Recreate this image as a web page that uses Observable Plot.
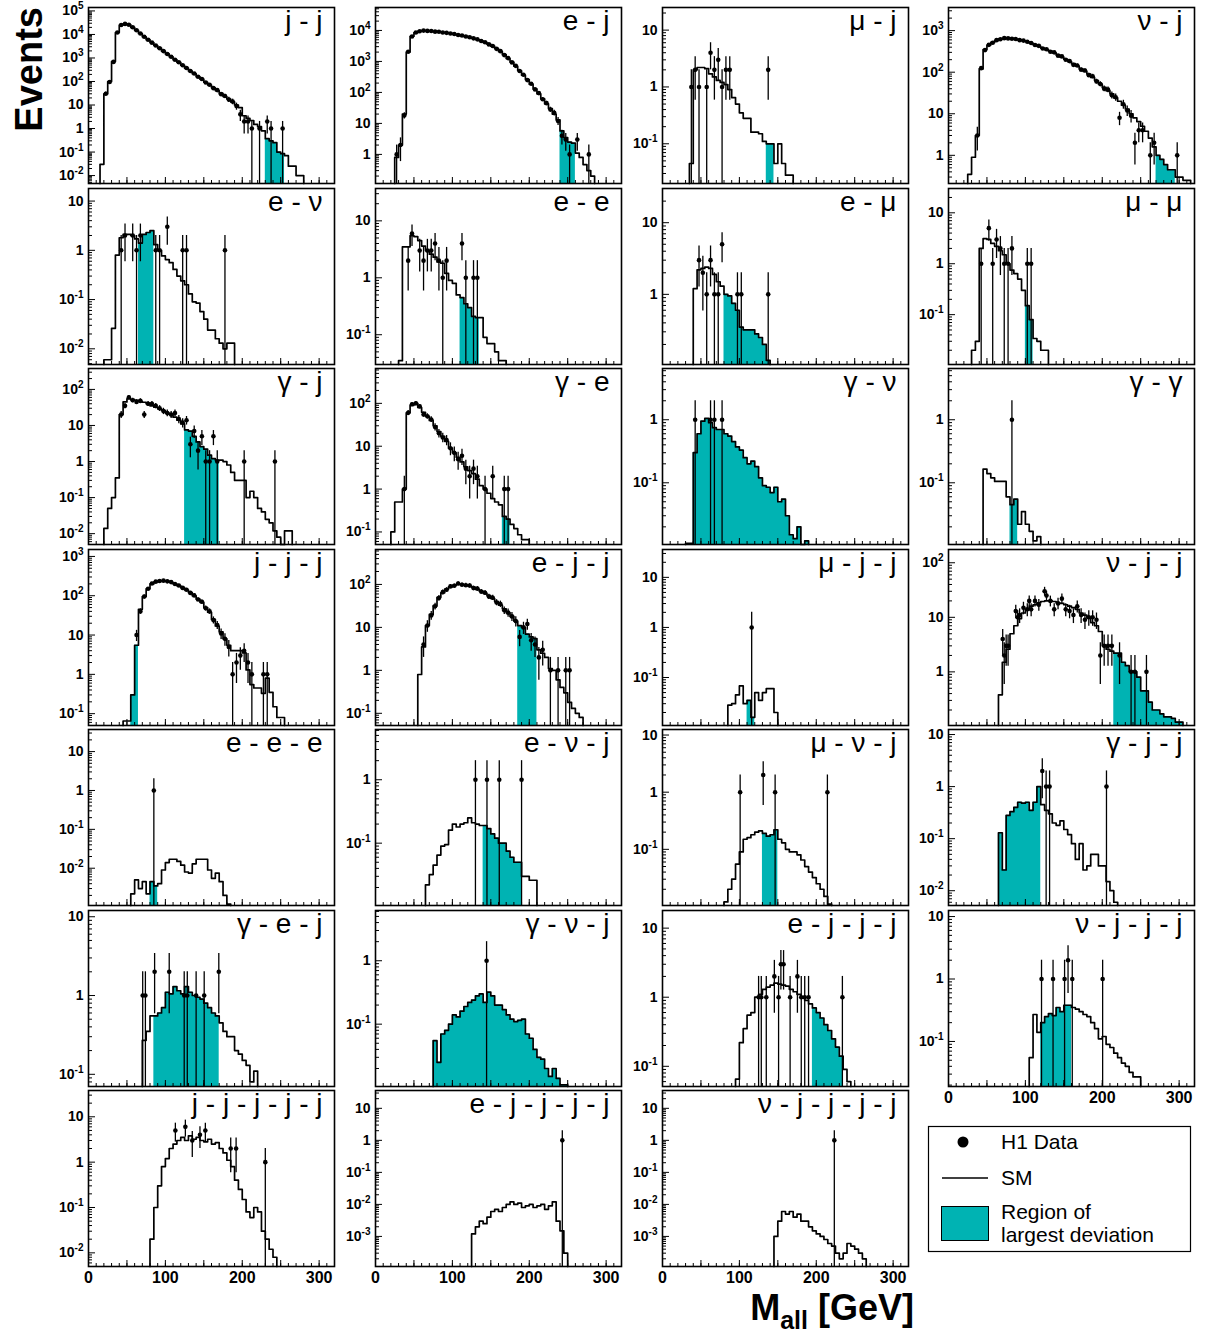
<!DOCTYPE html>
<html><head><meta charset="utf-8">
<script src="https://cdn.jsdelivr.net/npm/d3@7"></script>
<script src="https://cdn.jsdelivr.net/npm/@observablehq/plot@0.6"></script>
<style>
body{margin:0;background:#fff;}
#fig{position:relative;width:1207px;height:1336px;font-family:"Liberation Sans",Arial,sans-serif;overflow:hidden;}
.pn{position:absolute;}
</style></head><body><div id="fig"></div>
<script>
// ---------- data (SM: values per 5 GeV bin from "start"; points: [Mall, events]) ----------
const jj_sm = [0.03,30,100,700,12000,25000,28000,26000,20000,15000,11000,8000,6000,4500,3400,2600,1950,1480,1120,850,650,490,370,280,215,160,125,93,71,54,41,31,23,18,13.5,10,7.8,3.5,2.7,2.2,1.5,1.2,0.8,0.37,0.3,0.25,0.1,0.085,0.07,0.025,0.025,0.01,0.01];
const jj_body = [30,95,680,12100,25200,28100,25900,20100,15050,10950,8020,5990,4480,3410,2590,1960,1470,1130,845,655,488,372,278,218,158,127,90,73,52,43,29,24,17,14,9,4];
const jj_tail = [[202.5,2],[207.5,2],[212.5,1],[222.5,1],[232.5,2],[237.5,1],[252.5,1]];

const ej_sm = [0.8,2,20,2000,6500,8500,9500,9800,9700,9500,9200,9000,8600,8300,8000,7600,7200,6800,6400,6000,5600,5100,4600,4100,3600,3100,2600,2100,1650,1250,950,700,500,360,260,185,130,90,62,43,30,20,13,5.7,3.5,2.5,2.3,1.1,0.8,0.47,0.3,0.2];
const ej_body = [1,2,18,2050,6400,8600,9400,9900,9650,9550,9150,9050,8550,8350,7950,7650,7150,6850,6350,6050,5550,5150,4550,4150,3550,3150,2550,2150,1600,1280,930,720,490,370,250,190,125,95,60,45,28,22,12];
const ej_tail = [[242.5,4],[247.5,3],[252.5,1],[262.5,3],[277.5,1]];

const muj_sm = [0.045,2,2.2,2.2,2.1,1.7,1.5,1.3,1.2,1.1,0.9,0.65,0.5,0.35,0.28,0.28,0.16,0.16,0.15,0.11,0.1,0.1,0.045,0.1,0.045,0.028,0.028];
const muj_pts = [[37.5,1],[42.5,2],[47.5,1],[57.5,1],[62.5,4],[67.5,2],[72.5,3],[77.5,1],[82.5,2],[87.5,2],[137.5,2]];

const nuj_sm = [0.35,0.9,3,120,350,450,520,580,630,650,660,650,620,600,570,540,500,460,420,380,350,320,290,260,230,205,180,160,140,120,105,90,75,63,52,43,36,30,24,20,16,13,10,8,6.5,5,3.8,2.6,1.6,1.0,0.8,0.6,0.45,0.45,0.3,0.3,0.25,0.25];
const nuj_body = [3,125,340,455,510,590,620,660,650,640,630,590,575,540,505,450,430,370,355,310,300,250,240,200,185,150,145,115,110,85,80,60,52,40,38,28,25,8,17,12,9];
const nuj_tail = [[242.5,2],[247.5,4],[252.5,4],[262.5,1],[267.5,2],[297.5,1]];

const enu_sm = [0.006,0.006,0.026,0.8,1.8,2.1,2.1,2.0,1.7,1.4,2.1,2.3,2.5,1.3,1.0,0.77,0.65,0.56,0.41,0.3,0.24,0.2,0.13,0.09,0.085,0.057,0.04,0.024,0.024,0.016,0.013,0.01,0.013,0.013];
const enu_pts = [[42.5,1],[47.5,2],[57.5,2],[62.5,1],[67.5,2],[87.5,1],[92.5,1],[102.5,3],[122.5,1],[127.5,1],[177.5,1]];

const ee_sm = [0.035,3.5,3.5,5.5,5.3,4.5,3.6,3.0,2.6,2.3,1.9,1.8,1.2,0.9,0.8,0.5,0.45,0.35,0.3,0.21,0.2,0.2,0.09,0.07,0.07,0.05,0.035,0.035];
const ee_pts = [[42.5,2],[47.5,6],[57.5,3],[62.5,2],[67.5,3],[72.5,3],[77.5,4],[82.5,2],[87.5,1],[92.5,2],[112.5,4],[117.5,1],[127.5,1],[132.5,1]];

const emu_sm = [1.2,2.2,2.3,2.4,2.3,1.9,1.5,1.3,1.0,0.95,0.75,0.6,0.35,0.32,0.32,0.32,0.28,0.25,0.2,0.12];
const emu_pts = [[47.5,3],[52.5,2],[57.5,1],[62.5,3],[67.5,1],[72.5,1],[77.5,5],[97.5,1],[102.5,1],[137.5,1]];

const mumu_sm = [0.02,0.03,2,3.1,3.0,2.5,2.2,1.8,1.5,1.0,0.75,0.64,0.5,0.3,0.15,0.08,0.034,0.03,0.02,0.02];
const mumu_pts = [[42.5,1],[52.5,5],[57.5,1],[62.5,3],[67.5,2],[72.5,1],[77.5,1],[82.5,2],[102.5,1],[107.5,1]];

const gj_sm = [0.014,0.05,0.1,0.35,20,45,55,52,50,47,44,40,35,32,29,26,22,20,17,14,11,7.5,7,5,3.5,2.6,2.2,1.5,1.2,1.1,1.1,1.0,0.8,0.5,0.3,0.3,0.3,0.1,0.15,0.1,0.05,0.04,0.025,0.02,0.012,0.008,0.005,0.012,0.012];
const gj_pts = [[42.5,20],[47.5,35],[52.5,60],[57.5,50],[62.5,45],[67.5,48],[72.5,20],[77.5,40],[82.5,40],[87.5,35],[92.5,30],[97.5,25],[102.5,22],[107.5,20],[112.5,22],[117.5,15],[122.5,12],[127.5,14],[132.5,3],[137.5,7],[142.5,2],[147.5,5],[152.5,1],[157.5,1],[162.5,5],[167.5,1],[202.5,1],[242.5,1]];

const ge_sm = [0.1,0.5,0.5,1.0,60,90,100,80,62,50,40,30,22,17,13,9,7,5.5,4.3,3.3,2.7,2.3,1.7,1.2,1.0,0.8,0.6,0.5,0.43,0.23,0.2,0.15,0.12,0.086,0.066,0.066];
const ge_pts = [[37.5,1],[42.5,60],[47.5,95],[52.5,100],[57.5,85],[62.5,55],[67.5,50],[72.5,42],[77.5,28],[82.5,20],[87.5,16],[92.5,14],[97.5,9],[102.5,7],[107.5,5],[112.5,6],[117.5,3],[122.5,2],[127.5,3],[132.5,2],[142.5,1],[152.5,2],[167.5,1],[172.5,1]];

const gnu_sm = [0.011,0.011,0.3,0.6,0.95,1.05,0.9,0.75,0.7,0.7,0.6,0.55,0.45,0.37,0.33,0.25,0.2,0.22,0.18,0.12,0.09,0.085,0.07,0.085,0.05,0.055,0.03,0.015,0.013,0.02,0.008,0.012];
const gnu_pts = [[42.5,1],[62.5,1],[67.5,1],[77.5,1]];

const gg_sm = [0.165,0.14,0.12,0.105,0.105,0.105,0.06,0.045,0.055,0.022,0.035,0.022,0.017,0.012,0.014];
const gg_pts = [[82.5,1]];

const jjj_sm = [0.065,0.065,0.3,5.5,45,95,150,200,225,240,240,235,220,200,180,160,140,120,100,82,68,50,38,25,17,12,8,5.5,4,4,4,3.5,1.3,0.55,0.45,0.45,0.33,0.8,0.35,0.15,0.08,0.08];
const jjj_body = [10,40,95,150,205,228,238,242,232,222,198,182,158,142,118,102,80,70,48,40,24,18,11,8];
const jjj_tail = [[182.5,5],[187.5,1],[192.5,2],[197.5,3],[202.5,4],[207.5,2],[212.5,1],[227.5,1],[232.5,1]];

const ejj_sm = [0.8,3.5,11,20,32,50,64,78,88,95,100,100,98,92,85,77,70,62,55,47,40,33,27,22,18,14,11,10,7,6,5.5,3,2.5,2,1.1,1,0.6,0.4,0.3,0.18,0.13,0.1,0.08];
const ejj_body = [4,11,19,31,48,66,75,90,93,105,98,96,94,82,80,68,64,52,49,38,35,25,22,18,14];
const ejj_tail = [[187.5,6],[192.5,10],[197.5,12],[202.5,5],[207.5,4],[212.5,2],[217.5,3],[227.5,1],[237.5,1],[247.5,1],[252.5,1]];

const mujj_sm = [0.028,0.03,0.045,0.068,0.03,0.035,0.016,0.05,0.035,0.05,0.06,0.06,0.02];
const mujj_pts = [[116,1]];

const nujj_sm = [0.38,1.5,2.6,5,7,9.5,12,14,16,17,18.5,19.5,20,20,19.5,18.5,18,17,16,15,14,12,11,10,8,7,5.5,3,2.6,2.4,2.2,2.2,1.5,1.3,1.0,1.0,0.8,0.45,0.45,0.28,0.2,0.2,0.17,0.15,0.15,0.14,0.12,0.12];
const nujj_pts = [[70.5,4],[72.5,2],[75,3],[77.5,3],[87.5,13],[90,10],[92.5,11],[97.5,15],[102.5,14],[105,20],[107.5,14],[112.5,20],[117.5,17],[125,30],[127.5,25],[132.5,20],[137.5,14],[142.5,18],[147.5,22],[152.5,14],[157.5,13],[162.5,11],[167.5,16],[172.5,11],[177.5,9],[182.5,10],[187.5,10],[192.5,9],[197.5,2],[202.5,3],[207.5,3],[212.5,3],[222.5,2],[237.5,1],[242.5,1],[257.5,1]];

const eee_sm = [0.0022,0.005,0.003,0.0045,0.0022,0.0045,0.0035,0.004,0.009,0.014,0.017,0.017,0.015,0.012,0.008,0.0075,0.013,0.017,0.017,0.017,0.009,0.0055,0.0075,0.0045,0.002,0.0012];
const eee_pts = [[85,1]];

const enuj_sm = [0.022,0.032,0.045,0.065,0.09,0.095,0.16,0.2,0.18,0.2,0.21,0.25,0.21,0.2,0.19,0.19,0.17,0.14,0.12,0.1,0.1,0.075,0.06,0.05,0.05,0.03,0.03,0.026,0.026];
const enuj_pts = [[130,1],[145,1],[161,1],[190,1]];

const munuj_sm = [0.012,0.02,0.03,0.055,0.09,0.15,0.16,0.18,0.2,0.21,0.19,0.17,0.18,0.22,0.15,0.13,0.1,0.09,0.09,0.08,0.065,0.05,0.04,0.032,0.025,0.02,0.015,0.011];
const munuj_pts = [[101,1],[131,2],[146.5,1],[214.5,1]];

const gjj_sm = [0.13,0.025,0.28,0.33,0.4,0.5,0.48,0.5,0.35,0.5,1.0,0.45,0.35,0.3,0.2,0.18,0.22,0.15,0.12,0.08,0.04,0.08,0.025,0.03,0.05,0.05,0.03,0.03,0.015,0.01,0.006];
const gjj_pts = [[122,2],[127,1],[131.5,1],[205.5,1]];

const gej_sm = [0.27,0.35,0.55,0.55,0.6,0.7,1.1,1.05,1.3,1.15,1.05,1.3,1.1,1.0,0.95,0.9,0.8,0.7,0.6,0.55,0.45,0.35,0.3,0.3,0.2,0.18,0.15,0.13,0.08,0.11];
const gej_pts = [[70.5,1],[74,1],[86,2],[105,2],[124.5,1],[128.5,1],[140,1],[150.5,1],[169.5,2]];

const gnuj_sm = [0.055,0.025,0.07,0.08,0.1,0.14,0.13,0.16,0.19,0.22,0.24,0.28,0.3,0.22,0.32,0.28,0.2,0.2,0.17,0.14,0.12,0.11,0.115,0.12,0.07,0.06,0.04,0.03,0.028,0.02,0.015,0.02,0.014,0.011,0.011];
const gnuj_pts = [[144.5,1]];

const ejjj_sm = [0.065,0.22,0.35,0.55,0.6,1.0,1.1,1.3,1.4,1.5,1.6,1.55,1.5,1.45,1.3,1.2,1.1,1.0,0.9,0.8,0.7,0.6,0.5,0.4,0.33,0.25,0.19,0.14,0.09,0.06];
const ejjj_pts = [[125,1],[128.5,1],[135,1],[145.5,2],[151,1],[154,3],[157.5,3],[166,1],[175.5,2],[180.5,1],[185,1],[190,1],[234,1]];

const nujjj_sm = [0.055,0.27,0.14,0.2,0.25,0.28,0.26,0.35,0.3,0.38,0.38,0.35,0.33,0.3,0.27,0.25,0.2,0.16,0.11,0.12,0.09,0.08,0.065,0.055,0.045,0.04,0.032,0.027,0.027];
const nujjj_pts = [[121,1],[136,1],[151,1],[155.5,2],[161,1],[200.5,1]];

const jjjjj_sm = [0.02,0.1,0.3,0.8,1.2,2,2.5,3,3.5,3,3.8,3.2,3.5,3,2.8,3.2,2.5,2.7,2,1.6,1.1,0.8,0.4,0.25,0.15,0.08,0.06,0.1,0.08,0.03,0.02,0.012,0.008];
const jjjjj_pts = [[113,5],[126,6],[135,3],[145,4],[152,5],[185,2],[192,2],[230,1]];

const ejjjj_sm = [0.0012,0.002,0.003,0.0025,0.004,0.006,0.007,0.006,0.008,0.01,0.012,0.01,0.011,0.008,0.009,0.01,0.008,0.009,0.01,0.007,0.009,0.012,0.003,0.0015,0.0003];
const ejjjj_pts = [[243,1]];

const nujjjj_sm = [0.001,0.003,0.006,0.005,0.006,0.004,0.005,0.003,0.003,0.002,0.0015,0.0012,0.001,0.0008,0.0006,0.0005,0.0003,0.0002,0.0003,0.0006,0.0005,0.0004,0.0003,0.0002];
const nujjjj_pts = [[223.5,1]];

const xTickLabels = [0, 100, 200, 300];

// ---------- layout ----------
const BIN = 5, XMAX = 320;
const COLS = [88, 375, 662, 948];
const ROWS = [7, 188, 368, 549, 729, 910, 1090];
const FW = 246, FH = 176;
const CYAN = "#00b3b3";
const FONT = "'Liberation Sans', Arial, Helvetica, sans-serif";

const aligned = (start, vals) => vals.map((n, i) => [start + BIN * i + BIN / 2, n]);

const panels = [
  {label:"j - j", row:0,col:0, y:[0.0046,1.4e5], start:15, sm:jj_sm, hl:[230,255], pts:[...aligned(20,jj_body), ...jj_tail]},
  {label:"e - j", row:0,col:1, y:[0.115,5.5e4], start:25, sm:ej_sm, hl:[240,260], pts:[...aligned(25,ej_body), ...ej_tail]},
  {label:"μ - j", row:0,col:2, y:[0.02,25], start:35, sm:muj_sm, hl:[135,145], pts:muj_pts},
  {label:"ν - j", row:0,col:3, y:[0.21,3600], start:25, sm:nuj_sm, hl:[270,295], pts:[...aligned(35,nuj_body), ...nuj_tail]},
  {label:"e - ν", row:1,col:0, y:[0.0048,18], start:20, sm:enu_sm, hl:[65,85], pts:enu_pts},
  {label:"e - e", row:1,col:1, y:[0.03,37], start:30, sm:ee_sm, hl:[110,135], pts:ee_pts},
  {label:"e - μ", row:1,col:2, y:[0.105,30], start:40, sm:emu_sm, hl:[80,140], pts:emu_pts},
  {label:"μ - μ", row:1,col:3, y:[0.0105,30], start:30, sm:mumu_sm, hl:[100,110], pts:mumu_pts},
  {label:"γ - j", row:2,col:0, y:[0.005,380], start:20, sm:gj_sm, hl:[125,170], pts:gj_pts},
  {label:"γ - e", row:2,col:1, y:[0.051,650], start:20, sm:ge_sm, hl:[165,175], pts:ge_pts},
  {label:"γ - ν", row:2,col:2, y:[0.0105,6.5], start:30, sm:gnu_sm, hl:[40,190], pts:gnu_pts},
  {label:"γ - γ", row:2,col:3, y:[0.0105,6.5], start:45, sm:gg_sm, hl:[80,90], pts:gg_pts},
  {label:"j - j - j", row:3,col:0, y:[0.05,1500], start:45, sm:jjj_sm, hl:[55,65], pts:[...aligned(60,jjj_body), ...jjj_tail]},
  {label:"e - j - j", row:3,col:1, y:[0.052,650], start:55, sm:ejj_sm, hl:[185,210], pts:[...aligned(60,ejj_body), ...ejj_tail]},
  {label:"μ - j - j", row:3,col:2, y:[0.011,36], start:85, sm:mujj_sm, hl:[110,120], pts:mujj_pts},
  {label:"ν - j - j", row:3,col:3, y:[0.104,175], start:65, sm:nujj_sm, hl:[215,305], pts:nujj_pts},
  {label:"e - e - e", row:4,col:0, y:[0.0011,37], start:55, sm:eee_sm, hl:[80,90], pts:eee_pts},
  {label:"e - ν - j", row:4,col:1, y:[0.0104,6.2], start:65, sm:enuj_sm, hl:[140,190], pts:enuj_pts},
  {label:"μ - ν - j", row:4,col:2, y:[0.0104,12.5], start:80, sm:munuj_sm, hl:[130,150], pts:munuj_pts},
  {label:"γ - j - j", row:4,col:3, y:[0.0052,12.5], start:65, sm:gjj_sm, hl:[65,120], pts:gjj_pts},
  {label:"γ - e - j", row:5,col:0, y:[0.07,12], start:70, sm:gej_sm, hl:[85,170], pts:gej_pts},
  {label:"γ - ν - j", row:5,col:1, y:[0.0104,6.2], start:75, sm:gnuj_sm, hl:[75,250], pts:gnuj_pts},
  {label:"e - j - j - j", row:5,col:2, y:[0.051,18], start:95, sm:ejjj_sm, hl:[195,235], pts:ejjj_pts},
  {label:"ν - j - j - j", row:5,col:3, y:[0.019,12.5], start:105, sm:nujjj_sm, hl:[118,162], pts:nujjj_pts, xlabels:true},
  {label:"j - j - j - j - j", row:6,col:0, y:[0.005,38], start:80, sm:jjjjj_sm, hl:null, pts:jjjjj_pts, xlabels:true},
  {label:"e - j - j - j - j", row:6,col:1, y:[1.15e-4,36], start:125, sm:ejjjj_sm, hl:null, pts:ejjjj_pts, xlabels:true},
  {label:"ν - j - j - j - j", row:6,col:2, y:[1.15e-4,36], start:145, sm:nujjjj_sm, hl:null, pts:nujjjj_pts, xlabels:true}
];

const fig = document.getElementById("fig");

function fmtDecade(d) {
  const k = Math.round(Math.log10(d));
  if (k === 0) return "1";
  if (k === 1) return "10";
  return "10^" + k;
}

function drawPanel(p) {
  const [lo, hi] = p.y;
  const bins = p.sm.map((v, i) => ({x1: p.start + i * BIN, x2: p.start + (i + 1) * BIN, v}));
  const last = bins[bins.length - 1];
  const step = [{x: bins[0].x1, y: lo}, ...bins.map(b => ({x: b.x1, y: b.v})), {x: last.x2, y: last.v}, {x: last.x2, y: lo}];
  // shaded region as one continuous step area (no seams between bins)
  let cyan = [];
  if (p.hl) {
    const hb = bins.filter(b => { const c = (b.x1 + b.x2) / 2; return c > p.hl[0] && c < p.hl[1]; });
    if (hb.length) cyan = [...hb.map(b => ({x: b.x1, v: b.v})), {x: hb[hb.length - 1].x2, v: hb[hb.length - 1].v}];
  }
  const pts = p.pts.filter(d => d[1] > 0).map(([x, n]) => ({x, n, e1: Math.max(n - Math.sqrt(n), lo * 0.5), e2: n + Math.sqrt(n)}));
  const k0 = Math.ceil(Math.log10(lo) - 1e-9), k1 = Math.floor(Math.log10(hi) + 1e-9);
  const decades = d3.range(k0, k1 + 1).map(k => Math.pow(10, k));
  const minors = [];
  for (let k = Math.floor(Math.log10(lo)); k <= Math.ceil(Math.log10(hi)); k++)
    for (let m = 2; m <= 9; m++) { const v = m * Math.pow(10, k); if (v >= lo && v <= hi) minors.push(v); }
  const xMajor = d3.range(0, XMAX + 1, 50), xMinor = d3.range(0, XMAX + 1, 10);

  const ML = 46, MR = 4, MT = 3, MB = p.xlabels ? 28 : 3;
  const marks = [
    Plot.areaY(cyan, {x: "x", y1: () => lo, y2: "v", curve: "step-after", fill: CYAN}),
    Plot.line(step, {x: "x", y: "y", curve: "step-after", stroke: "black", strokeWidth: 1.7}),
    Plot.ruleX(pts, {x: "x", y1: "e1", y2: "e2", stroke: "black", strokeWidth: 1.3}),
    Plot.dot(pts, {x: "x", y: "n", r: 2.3, fill: "black", stroke: null}),
    Plot.ruleY(decades, {insetRight: FW - 7, stroke: "black", strokeWidth: 1}),
    Plot.ruleY(minors, {insetRight: FW - 4, stroke: "black", strokeWidth: 1}),
    Plot.ruleX(xMinor, {insetTop: FH - 3, stroke: "black", strokeWidth: 1}),
    Plot.ruleX(xMajor, {insetTop: FH - 6, stroke: "black", strokeWidth: 1}),
    Plot.frame({stroke: "black", strokeWidth: 1.6}),
    Plot.text(decades, {y: d => d, text: fmtDecade, frameAnchor: "left", textAnchor: "end", dx: -5, fontSize: 14, fontWeight: "bold", fill: "black"}),
    Plot.text([p.label], {text: d => d, frameAnchor: "top-right", textAnchor: "end", lineAnchor: "top", dx: -12, dy: 3, fontSize: 28, fontWeight: "normal", fill: "black"})
  ];
  if (p.xlabels) marks.push(Plot.text(xTickLabels, {x: d => d, text: d => String(d), frameAnchor: "bottom", lineAnchor: "top", dy: 5, fontSize: 16, fontWeight: "bold", fill: "black"}));

  const svg = Plot.plot({
    width: ML + FW + MR, height: MT + FH + MB,
    marginLeft: ML, marginRight: MR, marginTop: MT, marginBottom: MB,
    x: {domain: [0, XMAX], axis: null},
    y: {type: "log", domain: [lo, hi], clamp: true, axis: null},
    style: {fontFamily: FONT, background: "transparent", overflow: "visible", color: "black"},
    marks
  });
  // superscript exponents on decade labels
  svg.querySelectorAll("text").forEach(t => {
    const m = t.textContent.match(/^10\^(-?\d+)$/);
    if (m) {
      t.textContent = "10";
      const ts = document.createElementNS("http://www.w3.org/2000/svg", "tspan");
      ts.setAttribute("dy", "-6");
      ts.setAttribute("font-size", "10");
      ts.textContent = m[1];
      t.appendChild(ts);
    }
  });
  const wrap = document.createElement("div");
  wrap.className = "pn";
  wrap.style.left = (COLS[p.col] - ML) + "px";
  wrap.style.top = (ROWS[p.row] - MT) + "px";
  wrap.appendChild(svg);
  fig.appendChild(wrap);
}
panels.forEach(drawPanel);

// ---------- titles ----------
const ylab = document.createElementNS("http://www.w3.org/2000/svg", "svg");
ylab.setAttribute("width", 60); ylab.setAttribute("height", 200);
ylab.style.position = "absolute"; ylab.style.left = "0px"; ylab.style.top = "0px";
ylab.innerHTML = `<text transform="translate(42,7) rotate(-90)" text-anchor="end" font-family="${FONT}" font-weight="bold" font-size="38">Events</text>`;
fig.appendChild(ylab);

const xlab = document.createElement("div");
xlab.style.cssText = `position:absolute;right:${1207-914}px;top:1288px;font-family:${FONT};font-weight:bold;font-size:36px;line-height:40px;white-space:nowrap;`;
xlab.innerHTML = `M<sub style="font-size:25px;vertical-align:-9px;line-height:0">all</sub> [GeV]`;
fig.appendChild(xlab);

// ---------- legend ----------
const leg = document.createElementNS("http://www.w3.org/2000/svg", "svg");
leg.setAttribute("width", 270); leg.setAttribute("height", 132);
leg.style.position = "absolute"; leg.style.left = "925px"; leg.style.top = "1123px";
leg.innerHTML = `
<rect x="3.5" y="3.5" width="262" height="125" fill="white" stroke="black" stroke-width="1.2"/>
<circle cx="38" cy="19" r="5.5" fill="black"/>
<line x1="17" y1="55" x2="63" y2="55" stroke="black" stroke-width="1.6"/>
<rect x="16.5" y="83.5" width="47" height="34" fill="${CYAN}" stroke="black" stroke-width="1"/>
<g font-family="${FONT}" font-size="21" fill="black">
<text x="76" y="26">H1 Data</text>
<text x="76" y="62">SM</text>
<text x="76" y="96">Region of</text>
<text x="76" y="119">largest deviation</text>
</g>`;
fig.appendChild(leg);
</script></body></html>
